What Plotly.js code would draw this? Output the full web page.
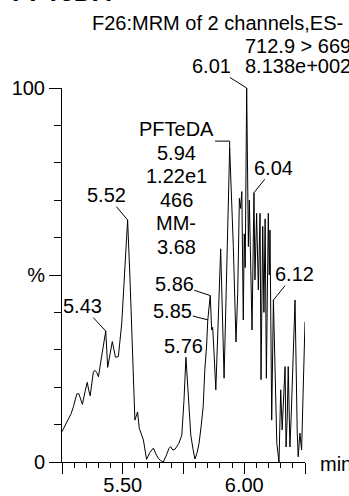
<!DOCTYPE html>
<html>
<head>
<meta charset="utf-8">
<script src="https://cdn.plot.ly/plotly-3.0.1.min.js"></script>
<style>
  html, body { margin: 0; padding: 0; background: #fff; overflow: hidden; }
  #chart { width: 349px; height: 496px; }
</style>
</head>
<body>
<div id="chart"></div>
<script>
// Chromatogram trace: retention time (min) and relative intensity (%)
const retentionTime = [
  5.250, 5.262, 5.276, 5.288, 5.297, 5.311, 5.319, 5.327, 5.334, 5.345,
  5.354, 5.360, 5.366, 5.379, 5.386, 5.393, 5.400, 5.414, 5.430, 5.438,
  5.450, 5.457, 5.470, 5.482, 5.496, 5.509, 5.520, 5.530, 5.541, 5.550,
  5.561, 5.568, 5.585, 5.598, 5.612, 5.626, 5.636, 5.646, 5.656, 5.667,
  5.680, 5.690, 5.697, 5.706, 5.715, 5.731, 5.743, 5.752, 5.760, 5.770,
  5.780, 5.789, 5.797, 5.806, 5.814, 5.823, 5.831, 5.838, 5.845, 5.850,
  5.860, 5.866, 5.870, 5.875, 5.883, 5.903, 5.910, 5.917, 5.940, 5.948,
  5.955, 5.966, 5.973, 5.980, 5.985, 5.990, 5.996, 6.000, 6.004, 6.010,
  6.017, 6.021, 6.026, 6.032, 6.040, 6.044, 6.051, 6.058, 6.065, 6.069,
  6.076, 6.081, 6.086, 6.091, 6.099, 6.103, 6.106, 6.109, 6.113, 6.120,
  6.127, 6.134, 6.143, 6.150, 6.156, 6.161, 6.168, 6.172, 6.177, 6.181,
  6.188, 6.193, 6.198, 6.209, 6.218, 6.222, 6.229, 6.236, 6.250
];
const relIntensity = [
  8.1, 9.6, 11.2, 13.0, 14.8, 18.2, 18.3, 16.6, 15.4, 18.9,
  21.3, 19.2, 17.7, 24.1, 24.5, 23.9, 22.8, 28.6, 35.0, 25.3,
  30.5, 32.2, 28.0, 28.2, 37.2, 50.5, 64.7, 48.7, 28.0, 11.2,
  13.4, 9.0, 5.9, 0.7, 2.6, 3.7, 2.2, 1.0, 0.4, 0.0,
  1.9, 3.6, 4.1, 3.2, 3.4, 5.0, 7.2, 16.5, 28.0, 15.7,
  7.2, 3.5, 0.8, 2.5, 5.0, 9.8, 14.8, 25.0, 31.0, 38.0,
  44.5, 35.3, 36.0, 30.0, 19.3, 57.0, 40.0, 22.4, 84.0, 70.0,
  57.6, 32.1, 45.0, 70.5, 67.8, 72.3, 38.0, 61.0, 52.0, 100.0,
  57.6, 70.0, 49.5, 35.3, 72.0, 48.7, 66.5, 46.0, 66.5, 22.0,
  63.0, 40.0, 65.0, 22.4, 66.5, 50.0, 62.0, 38.8, 11.2, 43.3,
  26.5, 5.0, 0.0, 19.3, 8.6, 16.0, 25.5, 4.0, 12.0, 25.5,
  4.0, 12.0, 21.0, 43.3, 8.0, 1.4, 7.7, 3.2, 37.5
];

// Peak apex labels (retention times)
const peakLabels = ['5.43', '5.52', '5.76', '5.85', '5.86', '6.01', '6.04', '6.12'];

// Integrated compound annotation
const compoundLines = ['PFTeDA', '5.94', '1.22e1', '466', 'MM-', '3.68'];
const compoundPeak = 5.94;

// Header text
const traceTitle = 'PFTeDA';
const headerLines = ['F26:MRM of 2 channels,ES-', '712.9 > 669'];
const baseIntensity = '8.138e+002';

// Axis ticks
const xTickVals = [5.25, 5.50, 5.75, 6.00, 6.25];
const xTickText = ['', '5.50', '', '6.00', ''];
const yTickVals = [0, 50, 100];
const yTickText = ['0', '%', '100'];
const xUnit = 'min';

// ---- layout geometry (pixels) ----
const W = 349, H = 496;
const M = { l: 62, r: 44, t: 88, b: 34 };
const plotW = W - M.l - M.r, plotH = H - M.t - M.b;
const px = x => (x - M.l) / plotW;          // pixel x -> paper x
const py = y => (H - M.b - y) / plotH;      // pixel y -> paper y

const FONT = { family: 'Liberation Sans, Arial, Helvetica, sans-serif', size: 20, color: '#000' };

// intensity at the sample nearest a given time
function valueAt(t) {
  let best = 0;
  for (let i = 1; i < retentionTime.length; i++) {
    if (Math.abs(retentionTime[i] - t) < Math.abs(retentionTime[best] - t)) best = i;
  }
  return relIntensity[best];
}

// label offsets (pixels, from apex to label centre)
const labelOffsets = {
  '5.43': [-23, -25], '5.52': [-21, -25], '5.76': [-2, -11],
  '5.85': [-35, -9],  '5.86': [-36, -12], '6.01': [-35, -22],
  '6.04': [20, -25],  '6.12': [21, -26]
};

const annotations = [];

peakLabels.forEach(lbl => {
  const t = parseFloat(lbl);
  const [ax, ay] = labelOffsets[lbl];
  annotations.push({
    x: t, y: valueAt(t), xref: 'x', yref: 'y',
    text: lbl, font: FONT,
    showarrow: true, arrowhead: 0, arrowwidth: 1, arrowcolor: '#000',
    standoff: 0, startstandoff: 0, ax: ax, ay: ay, borderpad: 0
  });
});

// compound block, one annotation per line
compoundLines.forEach((line, i) => {
  annotations.push({
    x: px(176), y: py(129 + i * 23.5), xref: 'paper', yref: 'paper',
    xanchor: 'center', yanchor: 'middle', text: line, font: FONT, showarrow: false
  });
});

// header
annotations.push({
  x: px(10), y: py(9), xref: 'paper', yref: 'paper', xanchor: 'left', yanchor: 'bottom',
  text: '<b>' + traceTitle + '</b>', font: Object.assign({}, FONT, { size: 26 }), showarrow: false
});
annotations.push({
  x: px(90), y: py(22.5), xref: 'paper', yref: 'paper', xanchor: 'left', yanchor: 'middle',
  text: headerLines[0], font: FONT, showarrow: false
});
annotations.push({
  x: px(243), y: py(46), xref: 'paper', yref: 'paper', xanchor: 'left', yanchor: 'middle',
  text: headerLines[1], font: FONT, showarrow: false
});
annotations.push({
  x: px(243), y: py(66), xref: 'paper', yref: 'paper', xanchor: 'left', yanchor: 'middle',
  text: baseIntensity, font: FONT, showarrow: false
});
// x unit
annotations.push({
  x: px(318), y: py(464), xref: 'paper', yref: 'paper', xanchor: 'left', yanchor: 'middle',
  text: xUnit, font: FONT, showarrow: false
});

// elbow leader from the compound block down to its apex
const elbowLevel = 85.8, elbowStart = 5.8796;
const shapes = [{
  type: 'path', xref: 'x', yref: 'y',
  path: `M ${elbowStart},${elbowLevel} L ${compoundPeak},${elbowLevel} L ${compoundPeak},${valueAt(compoundPeak)}`,
  line: { color: '#000', width: 1 }
}];

const trace = {
  x: retentionTime, y: relIntensity, type: 'scatter', mode: 'lines',
  line: { color: '#000', width: 1 }, hoverinfo: 'skip'
};

const layout = {
  width: W, height: H, margin: M,
  paper_bgcolor: '#fff', plot_bgcolor: '#fff',
  showlegend: false, font: FONT,
  xaxis: {
    range: [5.25, 6.25], showline: true, linecolor: '#000', linewidth: 1,
    showgrid: false, zeroline: false,
    tickmode: 'array', tickvals: xTickVals, ticktext: xTickText,
    ticks: 'outside', ticklen: 11, tickwidth: 1, tickcolor: '#000', tickfont: FONT,
    ticklabelstandoff: -6,
    minor: { tickmode: 'linear', tick0: 5.25, dtick: 0.05, ticks: 'outside', ticklen: 5,
             tickwidth: 1, tickcolor: '#000', showgrid: false }
  },
  yaxis: {
    range: [0, 100], showline: true, linecolor: '#000', linewidth: 1,
    showgrid: false, zeroline: false,
    tickmode: 'array', tickvals: yTickVals, ticktext: yTickText,
    ticks: 'outside', ticklen: 12, tickwidth: 1, tickcolor: '#000', tickfont: FONT,
    minor: { tickmode: 'linear', tick0: 0, dtick: 10, ticks: 'outside', ticklen: 7,
             tickwidth: 1, tickcolor: '#000', showgrid: false }
  },
  annotations: annotations,
  shapes: shapes
};

Plotly.newPlot('chart', [trace], layout, { displayModeBar: false, staticPlot: true });
</script>
</body>
</html>
